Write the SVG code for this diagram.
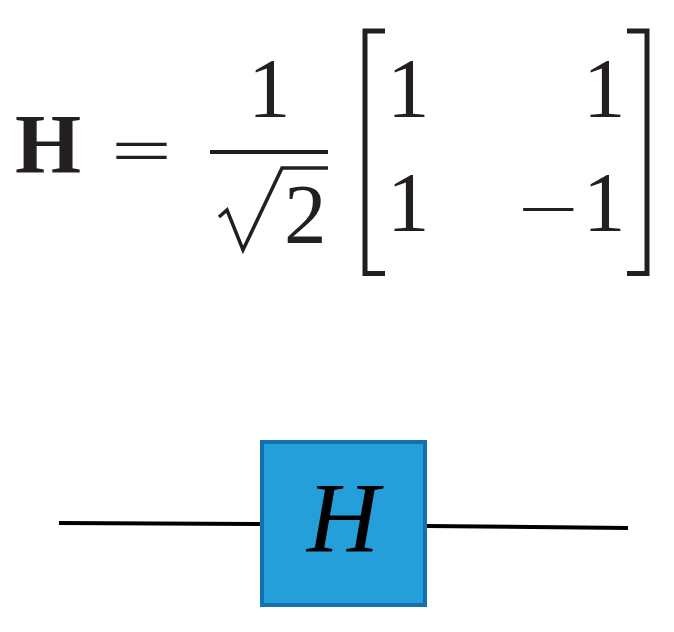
<svg xmlns="http://www.w3.org/2000/svg" width="674" height="632" viewBox="0 0 674 632">
<style>
.m{font-family:"Liberation Serif","Times New Roman",serif;fill:#231f20}
.b{font-weight:bold}
.br{fill:none;stroke:#231f20;stroke-width:5;stroke-linecap:butt}
.wire{stroke:#000;stroke-width:4;fill:none}
</style>
<rect width="674" height="632" fill="#fff"/>
<g id="formula">
<text class="m b" x="15" y="173" font-size="85">H</text>
<text class="m" x="0" y="0" font-size="108" transform="translate(111,173) scale(1,0.6)">=</text>
<text class="m" x="248" y="117" font-size="85">1</text>
<line x1="210" y1="152" x2="328" y2="152" stroke="#231f20" stroke-width="4"/>
<path d="M219,217 L227,210 L243,250 L282,168 H328" fill="none" stroke="#231f20" stroke-width="3.5" stroke-linejoin="miter"/>
<text class="m" x="284" y="243" font-size="85">2</text>
<path class="br" d="M385,31 H365 V273.5 H385"/>
<text class="m" x="387" y="117" font-size="85">1</text>
<text class="m" x="583" y="117" font-size="85">1</text>
<text class="m" x="387" y="231" font-size="85">1</text>
<text class="m" x="0" y="0" font-size="108" transform="translate(518,231) scale(1,0.6)">−</text>
<text class="m" x="583" y="231" font-size="85">1</text>
<path class="br" d="M627,31 H647 V273.5 H627"/>
</g>
<g id="wires">
<line class="wire" x1="59" y1="523" x2="261" y2="524"/>
<line class="wire" x1="426" y1="526" x2="628" y2="528"/>
</g>
<g id="gate">
<rect x="262" y="442" width="163" height="163" fill="#259fda" stroke="#1570b0" stroke-width="4"/>
<text x="343" y="551" font-family="Liberation Serif,serif" font-style="italic" font-size="100" text-anchor="middle" fill="#000">H</text>
</g>
</svg>
